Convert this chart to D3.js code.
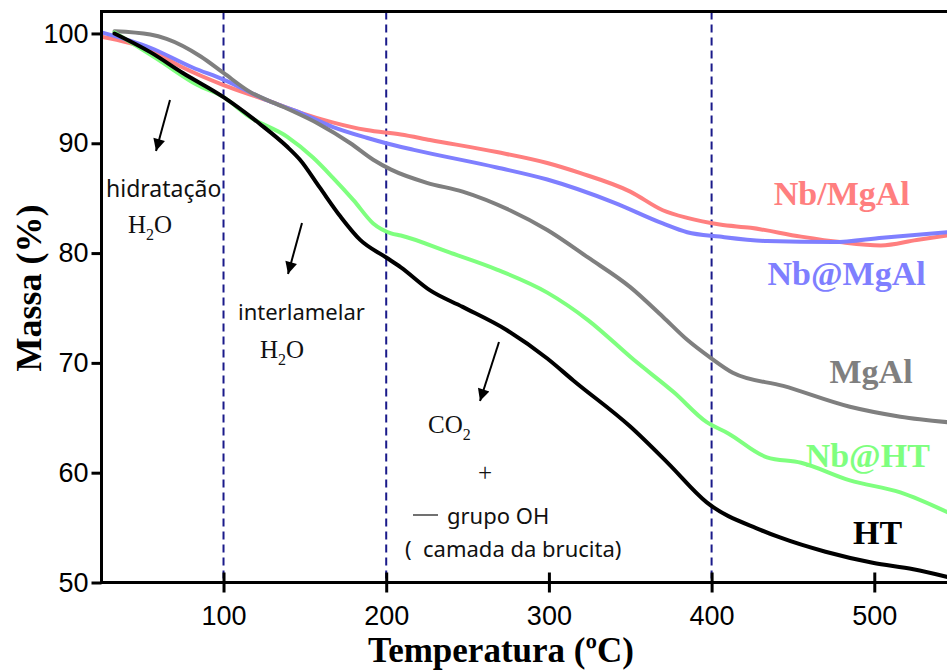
<!DOCTYPE html>
<html>
<head>
<meta charset="utf-8">
<script src="https://cdn.jsdelivr.net/npm/d3@7/dist/d3.min.js"></script>
<style>
  html, body { margin: 0; padding: 0; background: #fff; }
  svg { display: block; }
</style>
</head>
<body>
<script>
// Thermogravimetric curves: mass (%) versus temperature (°C)
const htTemp   = [33, 55, 75, 100, 122, 139, 147, 159, 172, 184, 200, 209, 227, 247, 274, 299, 315, 350, 373, 397, 430, 442, 470, 499, 524, 545];
const htMass   = [100.0, 98.3, 96.4, 94.2, 91.8, 89.7, 88.5, 86.0, 83.3, 81.2, 79.6, 78.7, 76.6, 75.1, 73.0, 70.4, 68.4, 64.2, 60.9, 57.3, 54.8, 54.1, 52.8, 51.8, 51.2, 50.5];

const nbhtTemp = [33, 60, 84, 100, 116, 139, 155, 167, 180, 192, 203, 209, 238, 268, 299, 324, 352, 377, 397, 410, 434, 455, 485, 516, 545];
const nbhtMass = [100.1, 97.6, 95.3, 94.2, 92.4, 90.6, 88.7, 86.9, 84.8, 82.7, 81.8, 81.6, 80.1, 78.5, 76.4, 73.9, 70.3, 67.3, 64.6, 63.6, 61.4, 60.9, 59.3, 58.2, 56.4];

const mgalTemp = [33, 55, 65, 86, 100, 116, 137, 158, 178, 192, 203, 225, 247, 276, 299, 324, 350, 370, 385, 399, 413, 444, 485, 516, 545];
const mgalMass = [100.2, 99.9, 99.5, 97.9, 96.4, 94.7, 93.3, 91.8, 90.0, 88.5, 87.6, 86.4, 85.6, 83.9, 82.1, 79.6, 76.9, 74.2, 72.1, 70.5, 69.1, 67.9, 66.0, 65.1, 64.6];

const nbSlashTemp = [25, 55, 75, 100, 127, 147, 167, 188, 209, 227, 268, 299, 319, 350, 370, 385, 405, 424, 455, 479, 504, 526, 545];
const nbSlashMass = [99.7, 98.5, 96.9, 95.3, 93.9, 92.8, 91.9, 91.2, 90.8, 90.3, 89.2, 88.2, 87.3, 85.6, 83.9, 83.2, 82.6, 82.3, 81.5, 81.0, 80.7, 81.2, 81.6];

const nbAtTemp = [25, 55, 81, 100, 127, 147, 167, 188, 200, 217, 268, 299, 340, 370, 385, 405, 434, 475, 505, 545];
const nbAtMass = [100.1, 98.7, 96.9, 95.8, 93.9, 92.8, 91.5, 90.5, 90.0, 89.4, 87.8, 86.7, 84.6, 82.7, 81.9, 81.5, 81.1, 81.0, 81.4, 81.9];

const seriesNames  = ["Nb/MgAl", "Nb@MgAl", "MgAl", "Nb@HT", "HT"];
const seriesColors = ["#ff7f7f", "#7f7fff", "#7f7f7f", "#7fff7f", "#000000"];

const xTicks = [100, 200, 300, 400, 500];
const yTicks = [50, 60, 70, 80, 90, 100];
const markerTemps = [100, 200, 400];

const series = [
  { name: seriesNames[0], color: seriesColors[0], t: nbSlashTemp, m: nbSlashMass },
  { name: seriesNames[1], color: seriesColors[1], t: nbAtTemp,    m: nbAtMass },
  { name: seriesNames[2], color: seriesColors[2], t: mgalTemp,    m: mgalMass },
  { name: seriesNames[3], color: seriesColors[3], t: nbhtTemp,    m: nbhtMass },
  { name: seriesNames[4], color: seriesColors[4], t: htTemp,      m: htMass }
];

const W = 947, H = 671;
const plotL = 101.5, plotR = 947.5, plotT = 11.5, plotB = 582.5;

const svg = d3.select("body").append("svg").attr("width", W).attr("height", H);

const x = d3.scaleLinear().domain([25, 545]).range([plotL, plotR]);
const y = d3.scaleLinear().domain([50, 102]).range([plotB, plotT]);

const defs = svg.append("defs");
defs.append("clipPath").attr("id", "plot")
  .append("rect").attr("x", plotL).attr("y", plotT).attr("width", plotR - plotL).attr("height", plotB - plotT);
defs.append("marker")
  .attr("id", "head").attr("viewBox", "0 0 10 10").attr("refX", 10).attr("refY", 5)
  .attr("markerWidth", 7).attr("markerHeight", 6).attr("markerUnits", "strokeWidth")
  .attr("orient", "auto")
  .append("path").attr("d", "M0,0 L10,5 L0,10 Z").attr("fill", "#000");

// dashed stage boundaries
svg.append("g").selectAll("line").data(markerTemps).join("line")
  .attr("x1", d => x(d)).attr("x2", d => x(d))
  .attr("y1", plotT).attr("y2", plotB)
  .attr("stroke", "#1a1a8a").attr("stroke-width", 2)
  .attr("stroke-dasharray", "8,5");

// curves
const line = d3.line().x(d => x(d[0])).y(d => y(d[1])).curve(d3.curveMonotoneX);
svg.append("g").attr("clip-path", "url(#plot)")
  .selectAll("path").data(series).join("path")
  .attr("d", s => line(s.t.map((t, i) => [t, s.m[i]])))
  .attr("fill", "none")
  .attr("stroke", s => s.color)
  .attr("stroke-width", 4)
  .attr("stroke-linejoin", "round")
  .attr("stroke-linecap", "round");

// axes
const xAxis = svg.append("g").attr("transform", `translate(0,${plotB})`)
  .call(d3.axisBottom(x).tickValues(xTicks).tickSize(10).tickPadding(13).tickFormat(d3.format("d")));
xAxis.selectAll(".tick line").attr("y1", -10).attr("y2", 10);
const yAxis = svg.append("g").attr("transform", `translate(${plotL},0)`)
  .call(d3.axisLeft(y).tickValues(yTicks).tickSize(10).tickPadding(3).tickFormat(d3.format("d")));

[xAxis, yAxis].forEach(g => {
  g.select(".domain").remove();
  g.selectAll(".tick line").attr("stroke", "#000").attr("stroke-width", 3);
  g.selectAll(".tick text").attr("fill", "#000")
    .style("font-family", "'Liberation Sans', Arial, sans-serif").style("font-size", "27px");
});

// frame: left, bottom, top
svg.append("path")
  .attr("d", `M${plotR},${plotT} H${plotL} V${plotB} H${plotR}`)
  .attr("fill", "none").attr("stroke", "#000").attr("stroke-width", 3);

// axis titles
svg.append("text")
  .attr("x", 501).attr("y", 662).attr("text-anchor", "middle")
  .style("font-family", "'Liberation Serif', 'Times New Roman', serif")
  .style("font-weight", "bold").style("font-size", "35px")
  .text("Temperatura (ºC)");
svg.append("text")
  .attr("transform", "translate(41,288) rotate(-90)")
  .attr("text-anchor", "middle")
  .style("font-family", "'Liberation Serif', 'Times New Roman', serif")
  .style("font-weight", "bold").style("font-size", "36px")
  .text("Massa (%)");

// series labels, placed beside the right end of each curve
const labelSpots = [
  { t: 480, m: 84.4 },
  { t: 483, m: 77.1 },
  { t: 498, m: 68.2 },
  { t: 496, m: 60.5 },
  { t: 502, m: 53.5 }
];
svg.append("g").selectAll("text").data(series).join("text")
  .attr("x", (s, i) => x(labelSpots[i].t)).attr("y", (s, i) => y(labelSpots[i].m))
  .attr("text-anchor", "middle")
  .attr("fill", s => s.color)
  .style("font-family", "'Liberation Serif', 'Times New Roman', serif")
  .style("font-weight", "bold").style("font-size", "34px")
  .text(s => s.name);

// annotations
const sans = "'Noto Sans', 'Open Sans', sans-serif";
const serif = "'Liberation Serif', 'Times New Roman', serif";
function note(px, py, txt, font, size) {
  return svg.append("text").attr("x", px).attr("y", py)
    .style("font-family", font).style("font-size", size + "px")
    .style("white-space", "pre").attr("fill", "#111").text(txt);
}
function formula(px, py, a, sub, b) {
  const t = svg.append("text").attr("x", px).attr("y", py)
    .style("font-family", serif).style("font-size", "25px").attr("fill", "#111");
  t.append("tspan").text(a);
  t.append("tspan").attr("dy", 7).style("font-size", "16px").text(sub);
  if (b) t.append("tspan").attr("dy", -7).text(b);
  return t;
}
function arrow(x1, y1, x2, y2) {
  svg.append("line").attr("x1", x1).attr("y1", y1).attr("x2", x2).attr("y2", y2)
    .attr("stroke", "#000").attr("stroke-width", 2).attr("marker-end", "url(#head)");
}

arrow(170, 100, 156, 151);
note(106, 197, "hidratação", sans, 23);
formula(128, 233, "H", "2", "O");

arrow(302, 223, 288, 274);
note(238, 320, "interlamelar", sans, 22);
formula(260, 358, "H", "2", "O");

arrow(499, 342, 480, 401);
formula(428, 433, "CO", "2", null);
note(478, 481, "+", serif, 25);
svg.append("line").attr("x1", 413).attr("x2", 438).attr("y1", 515).attr("y2", 515)
  .attr("stroke", "#111").attr("stroke-width", 1.2);
note(447, 524, "grupo OH", sans, 22);
note(405, 557, "(  camada da brucita)", sans, 22);
</script>
</body>
</html>
